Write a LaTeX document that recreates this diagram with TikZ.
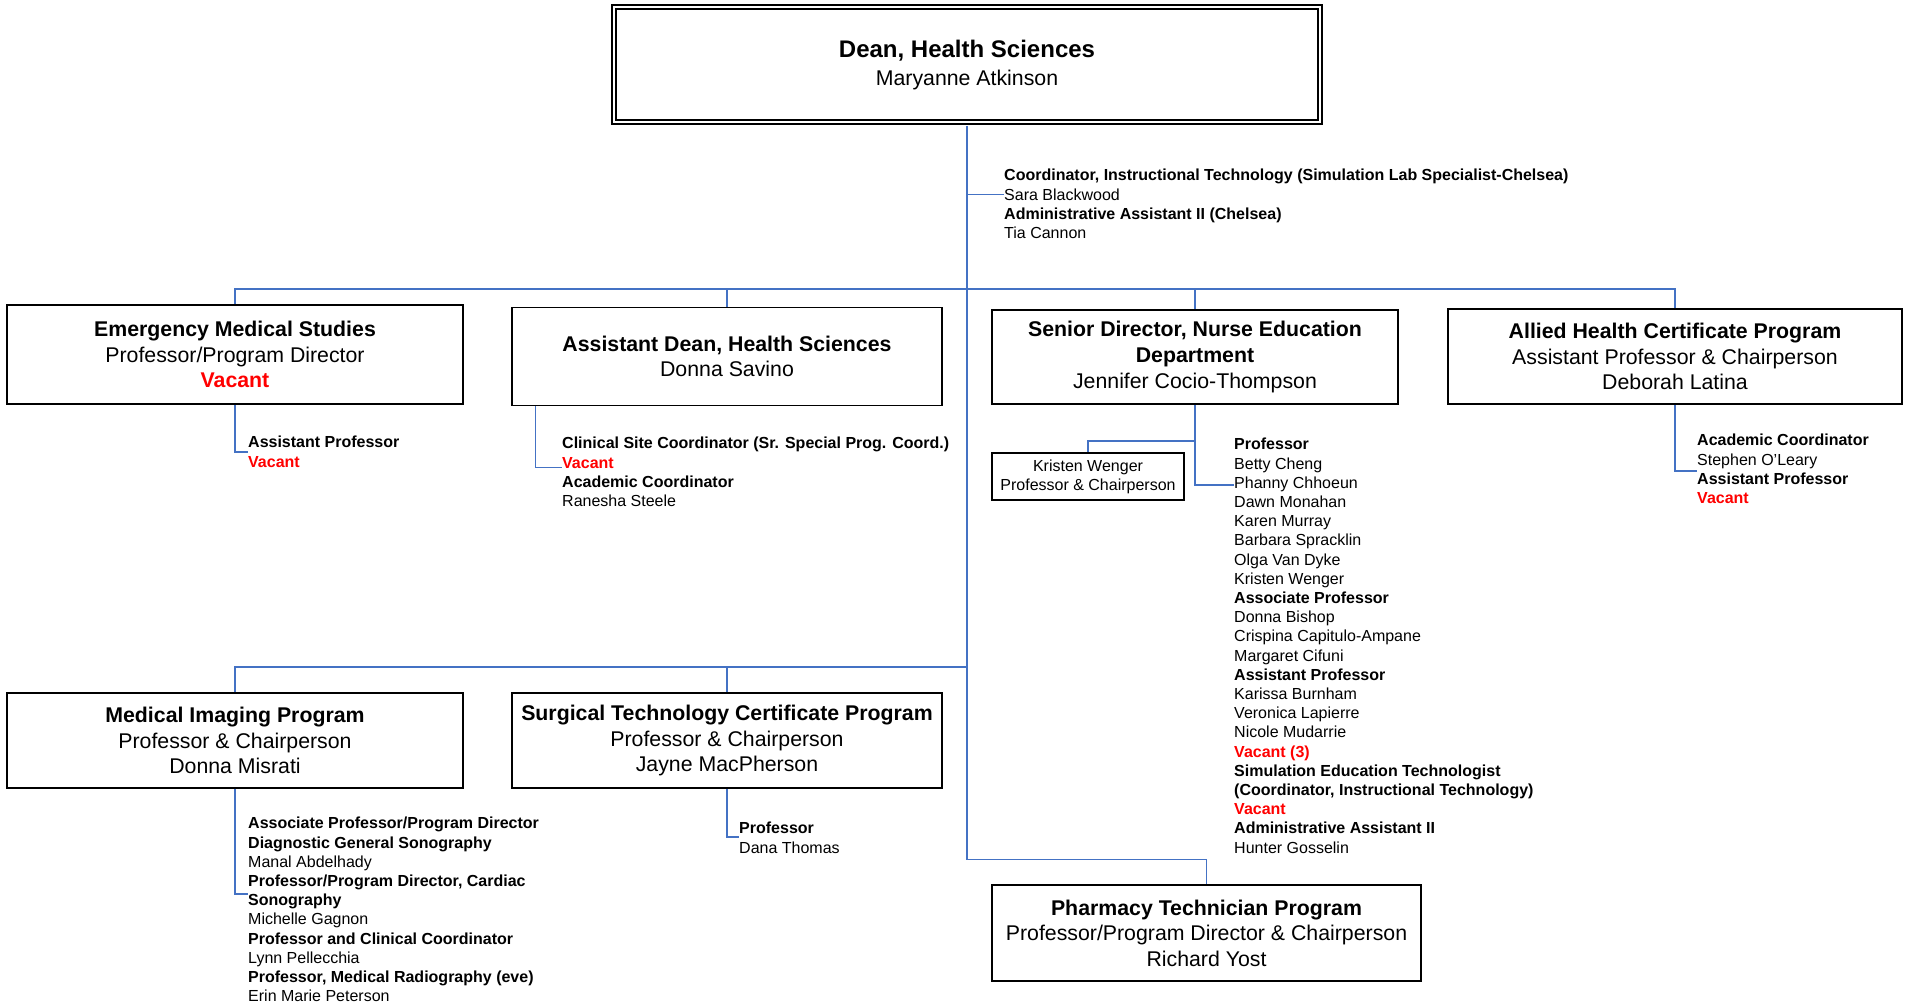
\documentclass[tikz,border=0pt]{standalone}
\usepackage{fontspec}
\setmainfont{Liberation Sans}
\definecolor{linkblue}{RGB}{68,114,196}
\begin{document}
\begin{tikzpicture}
  [x=1pt, y=-1pt,
   unit/.style={draw, line width=1.6pt, fill=white, inner sep=0pt, align=center, font=\fontsize{21.3}{25.6}\selectfont},
   staff/.style={anchor=north west, inner sep=0pt, align=left, font=\fontsize{16}{19.2}\selectfont},
   link/.style={draw=linkblue, line width=1.4pt}]
  \useasboundingbox (0,0) rectangle (1906,1005);
  % Define nodes
  \node[unit, double, line width=1.8pt, double distance=2.4pt, minimum width=706pt, minimum height=114.7pt, font=\fontsize{21.3}{28}\selectfont] (dean) at (967,64.6) {{\fontsize{24}{28}\selectfont\textbf{Dean, Health Sciences}}\\Maryanne Atkinson};
  \node[unit, minimum width=456pt, minimum height=99pt] (ems) at (235,354.5) {\textbf{Emergency Medical Studies}\\Professor/Program Director\\\textcolor{red}{\textbf{Vacant}}};
  \node[unit, minimum width=430pt, minimum height=98pt] (adean) at (727,356.5) {\textbf{Assistant Dean, Health Sciences}\\Donna Savino};
  \node[unit, minimum width=406pt, minimum height=94pt] (senior) at (1195,357) {\textbf{Senior Director, Nurse Education}\\\textbf{Department}\\Jennifer Cocio-Thompson};
  \node[unit, minimum width=454pt, minimum height=95pt] (allied) at (1675,356.5) {\textbf{Allied Health Certificate Program}\\Assistant Professor \& Chairperson\\Deborah Latina};
  \node[unit, minimum width=456pt, minimum height=95pt] (imaging) at (235,740.5) {\textbf{Medical Imaging Program}\\Professor \& Chairperson\\Donna Misrati};
  \node[unit, minimum width=430pt, minimum height=95pt] (surgical) at (727,740.5) {\textbf{Surgical Technology Certificate Program}\\Professor \& Chairperson\\Jayne MacPherson};
  \node[unit, minimum width=429pt, minimum height=96pt] (pharmacy) at (1206.5,933) {\textbf{Pharmacy Technician Program}\\Professor/Program Director \& Chairperson\\Richard Yost};
  \node[unit, font=\fontsize{16}{19.2}\selectfont, minimum width=192pt, minimum height=47pt] (kristen) at (1088,476.5) {Kristen Wenger\\Professor \& Chairperson};
  % Staff lists
  \node[staff] (coordstaff) at (1004,169) {\textbf{Coordinator, Instructional Technology (Simulation Lab Specialist-Chelsea)}\\Sara Blackwood\\\textbf{Administrative Assistant II (Chelsea)}\\Tia Cannon};
  \node[staff] (emsstaff) at (248,436) {\textbf{Assistant Professor}\\\textcolor{red}{\textbf{Vacant}}};
  \node[staff] (adeanstaff) at (562,437) {\textbf{Clinical Site Coordinator (Sr. Special Prog. Coord.)}\\\textcolor{red}{\textbf{Vacant}}\\\textbf{Academic Coordinator}\\Ranesha Steele};
  \node[staff] (nursestaff) at (1234,438) {\textbf{Professor}\\Betty Cheng\\Phanny Chhoeun\\Dawn Monahan\\Karen Murray\\Barbara Spracklin\\Olga Van Dyke\\Kristen Wenger\\\textbf{Associate Professor}\\Donna Bishop\\Crispina Capitulo-Ampane\\Margaret Cifuni\\\textbf{Assistant Professor}\\Karissa Burnham\\Veronica Lapierre\\Nicole Mudarrie\\\textcolor{red}{\textbf{Vacant (3)}}\\\textbf{Simulation Education Technologist}\\\textbf{(Coordinator, Instructional Technology)}\\\textcolor{red}{\textbf{Vacant}}\\\textbf{Administrative Assistant II}\\Hunter Gosselin};
  \node[staff] (alliedstaff) at (1697,434) {\textbf{Academic Coordinator}\\Stephen O’Leary\\\textbf{Assistant Professor}\\\textcolor{red}{\textbf{Vacant}}};
  \node[staff] (imagingstaff) at (248,817) {\textbf{Associate Professor/Program Director}\\\textbf{Diagnostic General Sonography}\\Manal Abdelhady\\\textbf{Professor/Program Director, Cardiac}\\\textbf{Sonography}\\Michelle Gagnon\\\textbf{Professor and Clinical Coordinator}\\Lynn Pellecchia\\\textbf{Professor, Medical Radiography (eve)}\\Erin Marie Peterson};
  \node[staff] (surgicalstaff) at (739,822) {\textbf{Professor}\\Dana Thomas};
  % Define edges
  \coordinate (topbus) at (967,289);
  \coordinate (lowbus) at (967,667);
  \coordinate (nursejoin) at (1195,441);
  \coordinate (coordlink) at ([yshift=-25.5pt]coordstaff.north west);
  \draw[link, shorten <=3pt] (dean.south) |- ([yshift=25pt]pharmacy.north) -- (pharmacy.north);
  \draw[link] (ems.north) |- (topbus) -| (allied.north);
  \draw[link] (adean.north) -- (adean.north |- topbus);
  \draw[link] (senior.north) -- (senior.north |- topbus);
  \draw[link] (imaging.north) |- (lowbus);
  \draw[link] (surgical.north) -- (surgical.north |- lowbus);
  \draw[link] (dean.south |- coordlink) -- (coordlink);
  \draw[link] (ems.south) |- ([yshift=-16pt]emsstaff.north west);
  \draw[link] ([xshift=24pt]adean.south west) |- ([yshift=-30.7pt]adeanstaff.north west);
  \draw[link] (senior.south) -- (nursejoin) -| (kristen.north);
  \draw[link] (nursejoin) |- ([yshift=-47pt]nursestaff.north west);
  \draw[link] (allied.south) |- ([yshift=-37pt]alliedstaff.north west);
  \draw[link] (imaging.south) |- ([yshift=-77pt]imagingstaff.north west);
  \draw[link] (surgical.south) |- ([yshift=-15pt]surgicalstaff.north west);
\end{tikzpicture}
\end{document}
